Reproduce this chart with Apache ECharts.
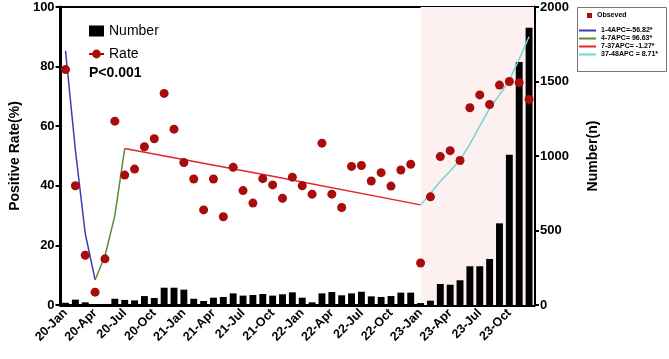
<!DOCTYPE html>
<html>
<head>
<meta charset="utf-8">
<script src="https://cdn.jsdelivr.net/npm/echarts@6/dist/echarts.min.js"></script>
<style>
  html, body { margin: 0; padding: 0; background: #fff; }
  #chart { width: 669px; height: 359px; }
</style>
</head>
<body>
<div id="chart"></div>
<script>
  // months Jan 2020 .. Dec 2023
  const months = [
    '20-Jan','20-Feb','20-Mar','20-Apr','20-May','20-Jun','20-Jul','20-Aug','20-Sep','20-Oct','20-Nov','20-Dec',
    '21-Jan','21-Feb','21-Mar','21-Apr','21-May','21-Jun','21-Jul','21-Aug','21-Sep','21-Oct','21-Nov','21-Dec',
    '22-Jan','22-Feb','22-Mar','22-Apr','22-May','22-Jun','22-Jul','22-Aug','22-Sep','22-Oct','22-Nov','22-Dec',
    '23-Jan','23-Feb','23-Mar','23-Apr','23-May','23-Jun','23-Jul','23-Aug','23-Sep','23-Oct','23-Nov','23-Dec'
  ];

  const numberData = [
    15, 36, 18, 5, 7, 42, 34, 31, 60, 47, 116, 116,
    103, 42, 27, 49, 54, 78, 63, 67, 74, 63, 72, 85,
    49, 18, 78, 87, 65, 78, 89, 58, 54, 60, 83, 83,
    13, 29, 141, 136, 166, 260, 260, 309, 548, 1009, 1631, 1861
  ];

  const rateData = [
    79, 40, 16.7, 4.3, 15.5, 61.7, 43.6, 45.6, 53.1, 55.8, 71, 59,
    47.8, 42.3, 31.9, 42.3, 29.6, 46.2, 38.4, 34.2, 42.4, 40.3, 35.8, 42.9,
    40, 37.2, 54.3, 37.2, 32.7, 46.5, 46.8, 41.6, 44.4, 39.9, 45.3, 47.2,
    14.1, 36.3, 49.8, 51.8, 48.5, 66.2, 70.5, 67.3, 73.8, 75, 74.6, 69
  ];

  // joinpoint fitted segments (index -> fitted rate)
  const seg1 = { 0: 85.3, 1: 52, 2: 24, 3: 8.4 };
  const seg2 = { 3: 8.4, 4: 16.5, 5: 30, 6: 52.5 };
  const seg3 = { 6: 52.5, 21: 43.2, 36: 33.6 };
  const seg4 = { 36: 33.6, 37: 37.4, 38: 41.5, 39: 45, 40: 48.6, 41: 54, 42: 60,
                 43: 66, 44: 70.5, 45: 75.5, 46: 82.5, 47: 90 };

  const segNames = ['1-4APC=-56.82*', '4-7APC= 96.63*', '7-37APC= -1.27*', '37-48APC = 8.71*'];
  const segColors = ['#3a3db3', '#5a8a32', '#e4252b', '#6fd6d2'];

  function segSeries(seg) {
    return months.map((m, i) => (seg[i] !== undefined ? seg[i] : null));
  }

  const chart = echarts.init(document.getElementById('chart'));
  const font = 'Liberation Sans, Arial, sans-serif';
  const dotColor = '#a80c0c';

  const lineSeries = [seg1, seg2, seg3, seg4].map((seg, k) => ({
    name: segNames[k],
    type: 'line',
    yAxisIndex: 0,
    data: segSeries(seg),
    connectNulls: true,
    symbol: 'none',
    z: 4,
    itemStyle: { color: segColors[k] },
    lineStyle: { color: segColors[k], width: 1.5 }
  }));

  chart.setOption({
    animation: false,
    backgroundColor: '#fff',
    textStyle: { fontFamily: font },
    grid: {
      left: 60, right: 135, top: 7, bottom: 54,
      show: true, borderColor: '#000', borderWidth: 2, backgroundColor: 'transparent'
    },
    legend: [
      {
        data: [{ name: 'Number', icon: 'rect' }, { name: 'Rate' }],
        orient: 'vertical',
        left: 83, top: 19,
        itemWidth: 15, itemHeight: 11, itemGap: 9,
        textStyle: { fontSize: 14, color: '#000', fontFamily: font }
      },
      {
        data: [{ name: 'Obseved', icon: 'rect' }],
        orient: 'vertical',
        left: 587, top: 12, padding: 0,
        itemWidth: 5, itemHeight: 5,
        textStyle: { fontSize: 7, fontWeight: 'bold', color: '#000', fontFamily: font }
      },
      {
        data: segNames,
        orient: 'vertical',
        left: 578, top: 27, padding: 0,
        itemWidth: 17, itemHeight: 5, itemGap: 1,
        itemStyle: { opacity: 0 },
        textStyle: { fontSize: 7, fontWeight: 'bold', color: '#000', fontFamily: font }
      }
    ],
    graphic: [
      {
        type: 'rect', left: 577, top: 7, z: -1,
        shape: { width: 89, height: 64 },
        style: { fill: '#fff', stroke: '#777', lineWidth: 1 }
      },
      {
        type: 'text', left: 89, top: 66,
        style: { text: 'P<0.001', font: 'bold 14px ' + font, fill: '#000' }
      }
    ],
    xAxis: [
      {
        type: 'category',
        data: months,
        boundaryGap: true,
        axisLine: { lineStyle: { color: '#000', width: 3 } },
        axisTick: { alignWithLabel: true, interval: 2, length: 6, lineStyle: { color: '#000', width: 2 } },
        axisLabel: { interval: 2, rotate: 45, fontSize: 12.5, fontWeight: 'bold', color: '#000', margin: 6 },
        splitLine: { show: false }
      },
      { type: 'value', min: 0, max: 48, show: false }
    ],
    yAxis: [
      {
        type: 'value',
        min: 0, max: 100, interval: 20,
        name: 'Positive Rate(%)',
        nameLocation: 'middle',
        nameGap: 34,
        nameTextStyle: { fontSize: 14, fontWeight: 'bold', color: '#000' },
        axisLine: { show: true, lineStyle: { color: '#000', width: 3 } },
        axisTick: { show: true, length: 5, lineStyle: { color: '#000', width: 2 } },
        axisLabel: { fontSize: 13, fontWeight: 'bold', color: '#000', margin: 6 },
        splitLine: { show: false }
      },
      {
        type: 'value',
        min: 0, max: 2000, interval: 500,
        name: 'Number(n)',
        nameLocation: 'middle',
        nameGap: 52,
        nameRotate: 90,
        nameTextStyle: { fontSize: 14, fontWeight: 'bold', color: '#000' },
        axisLine: { show: true, lineStyle: { color: '#000', width: 3 } },
        axisTick: { show: true, length: 5, lineStyle: { color: '#000', width: 2 } },
        axisLabel: { fontSize: 13, fontWeight: 'bold', color: '#000', margin: 6, formatter: (v) => String(v) },
        splitLine: { show: false }
      }
    ],
    series: [
      {
        name: 'shade',
        type: 'line',
        xAxisIndex: 1,
        yAxisIndex: 0,
        data: [],
        z: 0,
        markArea: {
          silent: true,
          itemStyle: { color: '#fdf0f0' },
          data: [[{ xAxis: 36.5 }, { xAxis: 48 }]]
        }
      },
      {
        name: 'Number',
        type: 'bar',
        yAxisIndex: 1,
        data: numberData,
        barWidth: '70%',
        itemStyle: { color: '#000' },
        z: 2
      },
      {
        name: 'Rate',
        type: 'line',
        data: [],
        symbol: 'circle',
        symbolSize: 8,
        itemStyle: { color: dotColor },
        lineStyle: { color: dotColor, width: 2 }
      },
      {
        name: 'Obseved',
        type: 'scatter',
        yAxisIndex: 0,
        data: rateData,
        symbol: 'circle',
        symbolSize: 9,
        itemStyle: { color: dotColor, opacity: 1 },
        z: 5
      }
    ].concat(lineSeries)
  });
</script>
</body>
</html>
